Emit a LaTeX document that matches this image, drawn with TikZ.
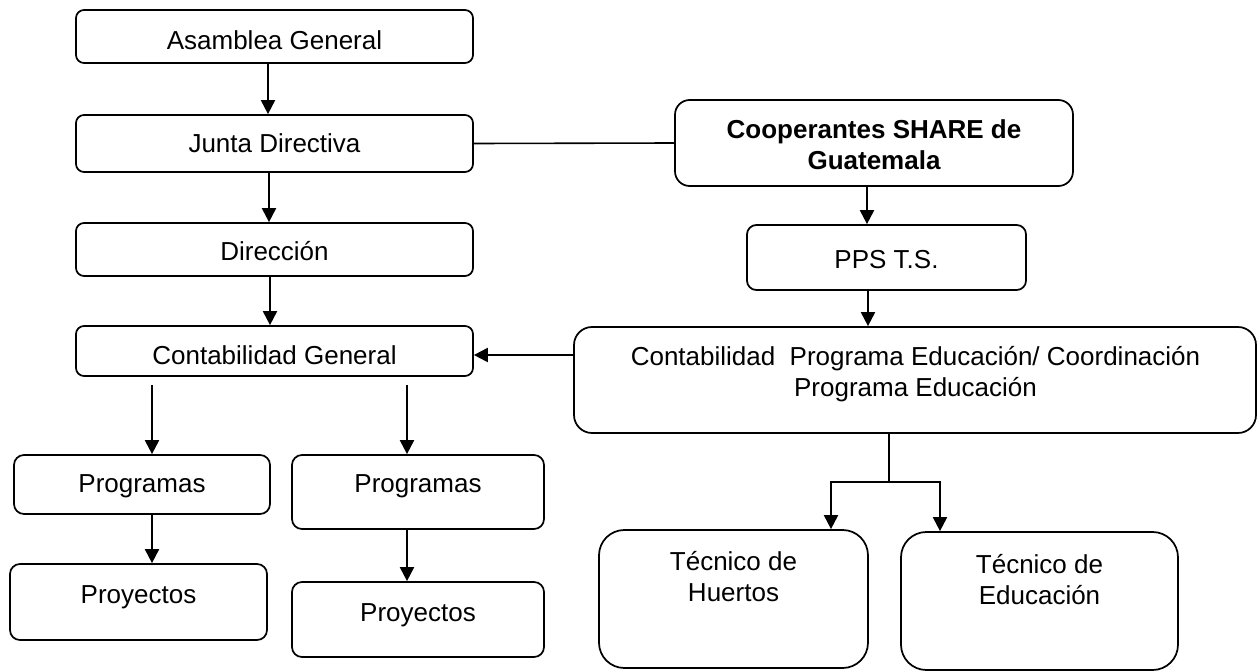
\documentclass[tikz,border=0pt]{standalone}
\usepackage{fontspec}
\setmainfont{Liberation Sans}
\usetikzlibrary{arrows.meta}
\begin{document}
\begin{tikzpicture}[x=0.75pt,y=-0.75pt,
  box/.style={draw=black, line width=1.3pt, inner sep=0pt, rounded corners=#1},
  box/.default=6pt,
  lbl/.style={inner sep=0pt, anchor=base, align=center,
    font=\fontsize{19.5}{23.25}\selectfont},
  arr/.style={line width=1.5pt, -{Triangle[length=10.5pt,width=10.5pt]}},
  link/.style={line width=1.2pt}]
\useasboundingbox (0,0) rectangle (1258,671);

% left column
\node[box, minimum width=297.75pt, minimum height=39.75pt] (asam) at (274.5,36.5) {};
\node[box, minimum width=297.75pt, minimum height=42.75pt] (junta) at (274.5,143.5) {};
\node[box, minimum width=297.75pt, minimum height=39.75pt] (dir) at (274.5,249.5) {};
\node[box, minimum width=297.75pt, minimum height=37.5pt] (contab) at (274.5,351) {};
\node[box=7.5pt, minimum width=192pt, minimum height=44.25pt] (progl) at (142,484.5) {};
\node[box=7.5pt, minimum width=189pt, minimum height=55.5pt] (progr) at (418,492) {};
\node[box=7.5pt, minimum width=192.75pt, minimum height=57pt] (proyl) at (138.5,602) {};
\node[box=7.5pt, minimum width=189pt, minimum height=56.25pt] (proyr) at (418,619.5) {};

% right column
\node[box=11pt, minimum width=298.5pt, minimum height=64.5pt] (coop) at (874,143) {};
\node[box=7pt, minimum width=209.25pt, minimum height=48.75pt] (pps) at (886.5,257.5) {};
\node[box=13.5pt, minimum width=511.5pt, minimum height=79.5pt] (big) at (915,380) {};
\node[box=19pt, minimum width=201.75pt, minimum height=103.5pt] (hue) at (733.5,599) {};
\node[box=19pt, minimum width=207.75pt, minimum height=103.5pt] (edu) at (1039.5,601) {};

% texts (base anchor = baseline of the last line)
\node[lbl] (asam-t) at (274.5,49.3) {Asamblea General};
\node[lbl] (junta-t) at (274.5,152.7) {Junta Directiva};
\node[lbl] (dir-t) at (274.5,260.7) {Dirección};
\node[lbl] (contab-t) at (274.5,364.3) {Contabilidad General};
\node[lbl] (progl-t) at (142,492.7) {Programas};
\node[lbl] (progr-t) at (418,492.7) {Programas};
\node[lbl] (proyl-t) at (138.5,603.3) {Proyectos};
\node[lbl] (proyr-t) at (418,621) {Proyectos};
\node[lbl, font=\fontsize{19.5}{23.25}\selectfont\bfseries] (coop-t) at (874,169.3) {Cooperantes SHARE de\\Guatemala};
\node[lbl] (pps-t) at (886.5,268.3) {PPS T.S.};
\node[lbl] (big-t) at (915.5,396.7) {Contabilidad~ Programa Educación/ Coordinación\\Programa Educación};
\node[lbl] (hue-t) at (733.5,601.7) {Técnico de\\Huertos};
\node[lbl] (edu-t) at (1039.5,604) {Técnico de\\Educación};

% connector positions
\coordinate (a1) at (268,0);
\coordinate (a2) at (269,0);
\coordinate (a3) at (270,0);
\coordinate (pl) at (152,0);
\coordinate (pr) at (407,0);
\coordinate (c1) at (867,0);
\coordinate (c2) at (868,0);
\coordinate (lk) at (0,355);
\coordinate (split) at (889,482);
\coordinate (th) at (831,0);
\coordinate (te) at (940,0);

% connectors
\draw[arr] (asam.south -| a1) -- (junta.north -| a1);
\draw[arr] (junta.south -| a2) -- (dir.north -| a2);
\draw[arr] (dir.south -| a3) -- (contab.north -| a3);
\draw[arr] ([yshift=-6pt]contab.south -| pl) -- (progl.north -| pl);
\draw[arr] ([yshift=-6pt]contab.south -| pr) -- (progr.north -| pr);
\draw[arr] (progl.south -| pl) -- (proyl.north -| pl);
\draw[arr] (progr.south -| pr) -- (proyr.north -| pr);
\draw[link] (junta.east) -- (coop.west);
\draw[arr] (coop.south -| c1) -- (pps.north -| c1);
\draw[arr] (pps.south -| c2) -- (big.north -| c2);
\draw[arr] (big.west |- lk) -- (contab.east |- lk);
\draw[line width=1.5pt] (big.south -| split) -- (split);
\draw[arr] (split) -| (hue.north -| th);
\draw[arr] (split) -| (edu.north -| te);
\end{tikzpicture}
\end{document}
